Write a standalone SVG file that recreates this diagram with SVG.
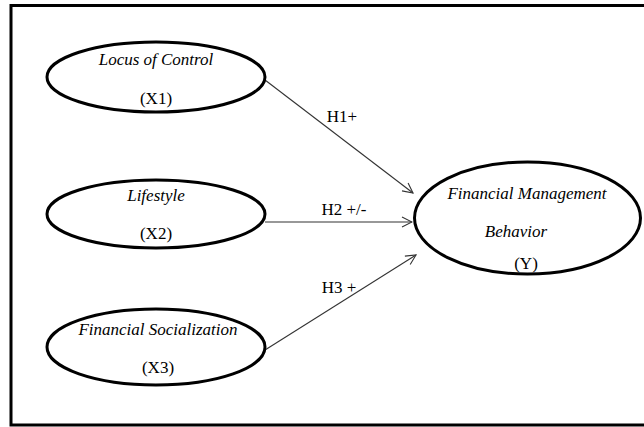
<svg xmlns="http://www.w3.org/2000/svg" width="644" height="427" viewBox="0 0 644 427">
<style>
.node{fill:#fff;stroke:#000;stroke-width:3}
.t{font-family:"Liberation Serif",serif;font-size:17px;fill:#000;text-anchor:middle}
.i{font-style:italic}
.c{stroke:#333;stroke-width:1.1;fill:none;marker-end:url(#ah)}
</style>
<defs>
<marker id="ah" viewBox="0 0 12 12" refX="11" refY="6" markerWidth="12" markerHeight="12" markerUnits="userSpaceOnUse" orient="auto">
<path d="M1,1 L11,6 L1,11" fill="none" stroke="#333" stroke-width="1.1"/>
</marker>
</defs>
<rect width="644" height="427" fill="#fff"/>
<path d="M648,5.5 H11 V425 H648" fill="none" stroke="#000" stroke-width="3"/>
<g id="connectors">
<line class="c" x1="265" y1="80" x2="413" y2="193"/>
<line class="c" x1="265" y1="222" x2="412" y2="222"/>
<line class="c" x1="265" y1="350" x2="416" y2="255"/>
<text class="t" x="342" y="122">H1+</text>
<text class="t" x="344" y="215">H2 +/-</text>
<text class="t" x="339" y="293">H3 +</text>
</g>
<g id="x1">
<ellipse class="node" cx="156" cy="77" rx="109" ry="35"/>
<text class="t i" x="156" y="65">Locus of Control</text>
<text class="t" x="156" y="104">(X1)</text>
</g>
<g id="x2">
<ellipse class="node" cx="156" cy="214" rx="109" ry="34"/>
<text class="t i" x="156" y="201">Lifestyle</text>
<text class="t" x="156" y="239">(X2)</text>
</g>
<g id="x3">
<ellipse class="node" cx="156" cy="347" rx="109" ry="38"/>
<text class="t i" x="158" y="335">Financial Socialization</text>
<text class="t" x="158" y="373">(X3)</text>
</g>
<g id="y">
<ellipse class="node" cx="527.5" cy="218" rx="113" ry="56"/>
<text class="t i" x="527" y="199">Financial Management</text>
<text class="t i" x="516" y="237">Behavior</text>
<text class="t" x="526" y="269">(Y)</text>
</g>
</svg>
